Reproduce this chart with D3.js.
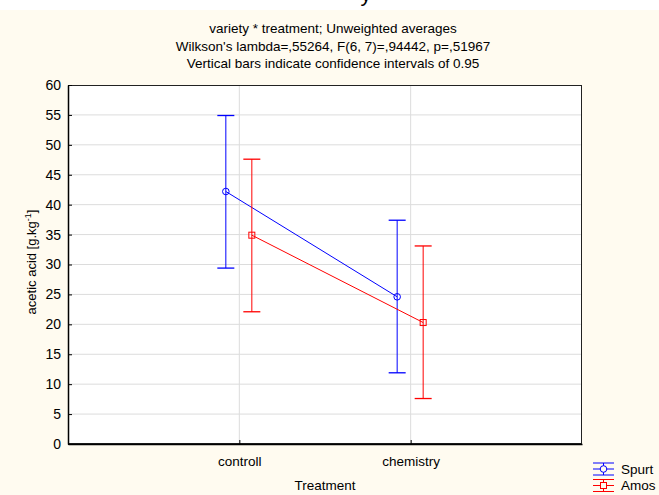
<!DOCTYPE html>
<html><head><meta charset="utf-8">
<script src="https://cdn.jsdelivr.net/npm/d3@7"></script>
<style>body{margin:0;background:#fff}svg{display:block}text{font-family:"Liberation Sans",Arial,sans-serif}</style>
</head><body><svg id="c" width="659" height="495"></svg>
<script>
const categories = ["controll", "chemistry"];
const seriesNames = ["Spurt", "Amos"];
const spurtMean = [42.2, 24.6];
const spurtLower = [29.4, 11.9];
const spurtUpper = [54.9, 37.4];
const amosMean = [34.9, 20.3];
const amosLower = [22.1, 7.6];
const amosUpper = [47.6, 33.1];
const yTicks = [0,5,10,15,20,25,30,35,40,45,50,55,60];
const titleLines = ["variety * treatment; Unweighted averages",
  "Wilkson's lambda=,55264, F(6, 7)=,94442, p=,51967",
  "Vertical bars indicate confidence intervals of 0.95"];

const svg = d3.select("#c");
const W = 659, H = 495;
const m = {l:68, r:582, t:85, b:444};
svg.append("rect").attr("x",0).attr("y",10).attr("width",W).attr("height",H-10).attr("fill","#fffbf0");
svg.append("text").attr("x",366).attr("y",1).attr("text-anchor","middle").attr("font-size",22).text("y");

const x = d3.scalePoint().domain(categories).range([m.l,m.r]).padding(1);
const y = d3.scaleLinear().domain([0,60]).range([m.b,m.t]);

svg.append("rect").attr("x",m.l).attr("y",m.t).attr("width",m.r-m.l).attr("height",m.b-m.t).attr("fill","#fff");
// grid
svg.append("g").selectAll("line").data(yTicks.slice(1,-1)).join("line")
  .attr("x1",m.l).attr("x2",m.r).attr("y1",d=>y(d)).attr("y2",d=>y(d))
  .attr("stroke","#dcdcdc").attr("stroke-width",1);
svg.append("g").selectAll("line").data(categories).join("line")
  .attr("x1",d=>x(d)).attr("x2",d=>x(d)).attr("y1",m.t).attr("y2",m.b)
  .attr("stroke","#dcdcdc").attr("stroke-width",1);
// frame
svg.append("rect").attr("x",m.l+0.5).attr("y",m.t+0.5).attr("width",m.r-m.l-1).attr("height",m.b-m.t-1)
  .attr("fill","none").attr("stroke","#222").attr("stroke-width",1);
// axes
const ya = svg.append("g").attr("transform",`translate(${m.l},0)`)
  .call(d3.axisLeft(y).tickValues(yTicks).tickSizeInner(-4).tickSizeOuter(0).tickPadding(7));
ya.select(".domain").attr("stroke","#000").attr("stroke-width",1.5);
ya.selectAll("text").attr("font-size",14).attr("fill","#000").attr("font-family","Liberation Sans, Arial");
ya.selectAll(".tick line").attr("stroke","#000");
const xa = svg.append("g").attr("transform",`translate(0,${m.b})`)
  .call(d3.axisBottom(x).tickSizeInner(-4).tickSizeOuter(0).tickPadding(12));
xa.select(".domain").attr("stroke","#000").attr("stroke-width",1.5);
xa.selectAll("text").attr("font-size",13.5).attr("fill","#000").attr("font-family","Liberation Sans, Arial");
xa.selectAll(".tick line").attr("stroke","#000");

// titles
titleLines.forEach((t,i)=>svg.append("text").attr("x",333).attr("y",33+i*17.5)
  .attr("text-anchor","middle").attr("font-size",13.5).text(t));
svg.append("text").attr("x",(m.l+m.r)/2).attr("y",490).attr("text-anchor","middle").attr("font-size",13.5).text("Treatment");
const yl = svg.append("text").attr("transform","translate(36,262) rotate(-90)").attr("text-anchor","middle").attr("font-size",13);
yl.append("tspan").text("acetic acid [g.kg");
yl.append("tspan").attr("dy",-5).attr("font-size",9).text("-1");
yl.append("tspan").attr("dy",5).text("]");

const series = [
  {name:seriesNames[0], mean:spurtMean, lo:spurtLower, hi:spurtUpper, color:"#0000ff", off:-13.5, shape:"circle"},
  {name:seriesNames[1], mean:amosMean, lo:amosLower, hi:amosUpper, color:"#ff0000", off:12.5, shape:"square"}
];
const cap = 8.5;
series.forEach(s=>{
  const g = svg.append("g");
  const pts = categories.map((c,i)=>({x:x(c)+s.off, m:s.mean[i], lo:s.lo[i], hi:s.hi[i]}));
  g.selectAll(".eb").data(pts).join("line").attr("x1",d=>d.x).attr("x2",d=>d.x)
    .attr("y1",d=>y(d.lo)).attr("y2",d=>y(d.hi)).attr("stroke",s.color);
  ["lo","hi"].forEach(k=>g.selectAll(".cap"+k).data(pts).join("line")
    .attr("x1",d=>d.x-cap).attr("x2",d=>d.x+cap).attr("y1",d=>y(d[k])).attr("y2",d=>y(d[k])).attr("stroke",s.color).attr("stroke-width",1.3));
  g.append("path").datum(pts).attr("d",d3.line().x(d=>d.x).y(d=>y(d.m))).attr("fill","none").attr("stroke",s.color);
  if(s.shape==="circle") g.selectAll("circle").data(pts).join("circle").attr("cx",d=>d.x).attr("cy",d=>y(d.m)).attr("r",3.3).attr("fill","none").attr("stroke",s.color);
  else g.selectAll("rect").data(pts).join("rect").attr("x",d=>d.x-3).attr("y",d=>y(d.m)-3).attr("width",6).attr("height",6).attr("fill","none").attr("stroke",s.color);
});
// legend
series.forEach((s,i)=>{
  const cy = 469 + i*16.5, x0 = 593, x1 = 614, cx=(x0+x1)/2;
  const g = svg.append("g");
  [-6,0,6].forEach(d=>g.append("line").attr("x1",x0).attr("x2",x1).attr("y1",cy+d).attr("y2",cy+d).attr("stroke",s.color));
  g.append("line").attr("x1",cx).attr("x2",cx).attr("y1",cy-6).attr("y2",cy+6).attr("stroke",s.color);
  if(s.shape==="circle") g.append("circle").attr("cx",cx).attr("cy",cy).attr("r",3.3).attr("fill","#fffbf0").attr("stroke",s.color);
  else g.append("rect").attr("x",cx-3).attr("y",cy-3).attr("width",6).attr("height",6).attr("fill","#fffbf0").attr("stroke",s.color);
  g.append("text").attr("x",621).attr("y",cy+4.5).attr("font-size",13.5).text(s.name);
});
</script></body></html>
